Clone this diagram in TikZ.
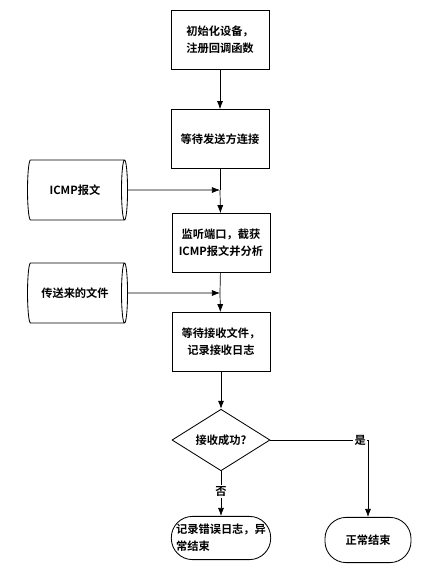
\documentclass[tikz,border=0pt]{standalone}
\usepackage{fontspec}
\setmainfont{Noto Sans CJK SC}[BoldFont={Noto Sans CJK SC Bold}]
\usetikzlibrary{shapes, arrows.meta, positioning, calc}

\begin{document}
\begin{tikzpicture}[x=0.025cm, y=-0.025cm,
        proc/.style={rectangle, draw=black, line width=0.6pt, minimum width=2.45cm, minimum height=1.47cm, align=center, font=\fontsize{8}{12}\selectfont\bfseries},
        store/.style={cylinder, draw=black, line width=0.6pt, aspect=0.3, minimum width=1.5cm, minimum height=2.5cm, align=center, font=\fontsize{8}{12}\selectfont\bfseries},
        decide/.style={diamond, draw=black, line width=0.6pt, minimum width=2.45cm, minimum height=1.5cm, inner sep=0pt, font=\fontsize{8}{12}\selectfont\bfseries},
        term/.style={rectangle, rounded corners=0.53cm, draw=black, line width=0.6pt, minimum width=2.45cm, minimum height=1.08cm, align=left, font=\fontsize{8}{12}\selectfont\bfseries},
        arrow/.style={-{Latex[length=2mm, width=1.5mm]}, line width=0.5pt},
        line/.style={line width=0.5pt},
        label/.style={fill=white, inner sep=1pt, font=\fontsize{8}{10}\selectfont\bfseries}
    ]
        \useasboundingbox (0,0) rectangle (448,568);

        % Main column of steps
        \node[proc] (init) at (220, 40) {初始化设备，\\注册回调函数};
        \node[proc] (wait) at (220, 139) {等待发送方连接};
        \node[proc] (listen) at (221, 243) {监听端口，截获\\ICMP报文并分析};
        \node[proc] (recv) at (221, 342) {等待接收文件，\\记录接收日志};
        \node[decide] (check) at (221, 440) {接收成功?};

        % Data inputs on the left
        \node[store] (icmp) at (75, 190) {ICMP报文};
        \node[store] (file) at (75, 293) {传送来的文件};

        % End points
        \node[term] (fail) at (221, 538) {记录错误日志，异\\常结束};
        \node[term, minimum width=2.15cm, minimum height=1.13cm, align=center] (done) at (368, 540) {正常结束};

        % Junctions on the main column
        \coordinate (j1) at (220, 190);
        \coordinate (j2) at (220, 293);

        % Connections
        \draw[arrow] (init) -- (wait);
        \draw[line] (wait) -- (j1);
        \draw[arrow] (icmp) -- (j1);
        \draw[arrow] (j1) -- (listen);
        \draw[line] (listen) -- (j2);
        \draw[arrow] (file) -- (j2);
        \draw[arrow] (j2) -- (recv);
        \draw[arrow] (recv) -- (check);
        \draw[arrow] (check) -- node[label, pos=0.45] {否} (fail);
        \draw[arrow] (check.east) -| node[label, pos=0.46] {是} (done.north);
    \end{tikzpicture}
\end{document}
